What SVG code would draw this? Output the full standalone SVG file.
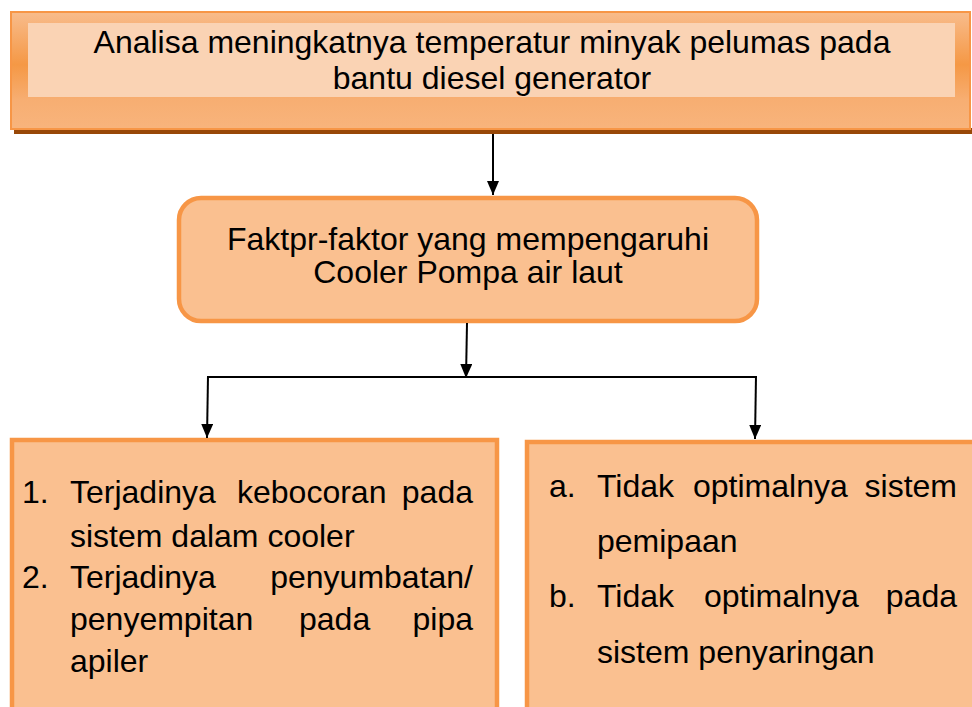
<svg xmlns="http://www.w3.org/2000/svg" width="972" height="707" viewBox="0 0 972 707">
<defs>
<linearGradient id="gTop" x1="0" y1="0" x2="0" y2="1">
<stop offset="0" stop-color="#F8BC8C"/>
<stop offset="0.45" stop-color="#F59845"/>
<stop offset="0.75" stop-color="#F7AE72"/>
<stop offset="1" stop-color="#F8B47C"/>
</linearGradient>
<marker id="arr" markerWidth="14" markerHeight="12" refX="14" refY="6" orient="auto" markerUnits="userSpaceOnUse" viewBox="0 0 14 12">
<path d="M0,0 L14,6 L0,12 Z" fill="#000"/>
</marker>
<style>
.t{font-family:"Liberation Sans",Arial,sans-serif;font-size:32px;fill:#000}
.box{fill:#FAC090;stroke:#F79646;stroke-width:4.5}
.c{fill:none;stroke:#000;stroke-width:2}
</style>
</defs>
<g id="node-top">
<rect x="14" y="128" width="958" height="6" fill="#984807"/>
<rect x="11" y="12" width="959" height="117" fill="url(#gTop)" stroke="#F79646" stroke-width="2"/>
<rect x="28" y="23" width="927" height="74" fill="#FAD3B4"/>
<text class="t" x="492" y="53" text-anchor="middle">Analisa meningkatnya temperatur minyak pelumas pada</text>
<text class="t" x="492" y="89" text-anchor="middle">bantu diesel generator</text>
</g>
<g id="node-mid">
<rect x="179" y="198" width="578" height="123" rx="22" ry="22" class="box"/>
<text class="t" x="468" y="250" text-anchor="middle">Faktpr-faktor yang mempengaruhi</text>
<text class="t" x="468" y="283" text-anchor="middle">Cooler Pompa air laut</text>
</g>
<g id="node-left">
<rect x="12" y="440" width="485" height="290" class="box"/>
<text class="t" x="22" y="503">1.</text>
<text class="t" x="70" y="503">Terjadinya</text>
<text class="t" x="237" y="503">kebocoran</text>
<text class="t" x="473" y="503" text-anchor="end">pada</text>
<text class="t" x="70" y="547">sistem dalam cooler</text>
<text class="t" x="22" y="588">2.</text>
<text class="t" x="70" y="588">Terjadinya</text>
<text class="t" x="473" y="588" text-anchor="end">penyumbatan/</text>
<text class="t" x="70" y="630">penyempitan</text>
<text class="t" x="299" y="630">pada</text>
<text class="t" x="473" y="630" text-anchor="end">pipa</text>
<text class="t" x="70" y="672">apiler</text>
</g>
<g id="node-right">
<rect x="527" y="442" width="460" height="290" class="box"/>
<text class="t" x="549" y="497">a.</text>
<text class="t" x="597" y="497">Tidak</text>
<text class="t" x="693" y="497">optimalnya</text>
<text class="t" x="957" y="497" text-anchor="end">sistem</text>
<text class="t" x="597" y="552">pemipaan</text>
<text class="t" x="549" y="607">b.</text>
<text class="t" x="597" y="607">Tidak</text>
<text class="t" x="704" y="607">optimalnya</text>
<text class="t" x="957" y="607" text-anchor="end">pada</text>
<text class="t" x="597" y="663">sistem penyaringan</text>
</g>
<g id="connectors">
<line class="c" x1="493" y1="134" x2="493" y2="195" marker-end="url(#arr)"/>
<line class="c" x1="467" y1="323" x2="466" y2="378" marker-end="url(#arr)"/>
<line class="c" x1="207" y1="377" x2="757" y2="377"/>
<line class="c" x1="208" y1="376" x2="207" y2="438" marker-end="url(#arr)"/>
<line class="c" x1="756" y1="376" x2="755" y2="439" marker-end="url(#arr)"/>
</g>
</svg>
